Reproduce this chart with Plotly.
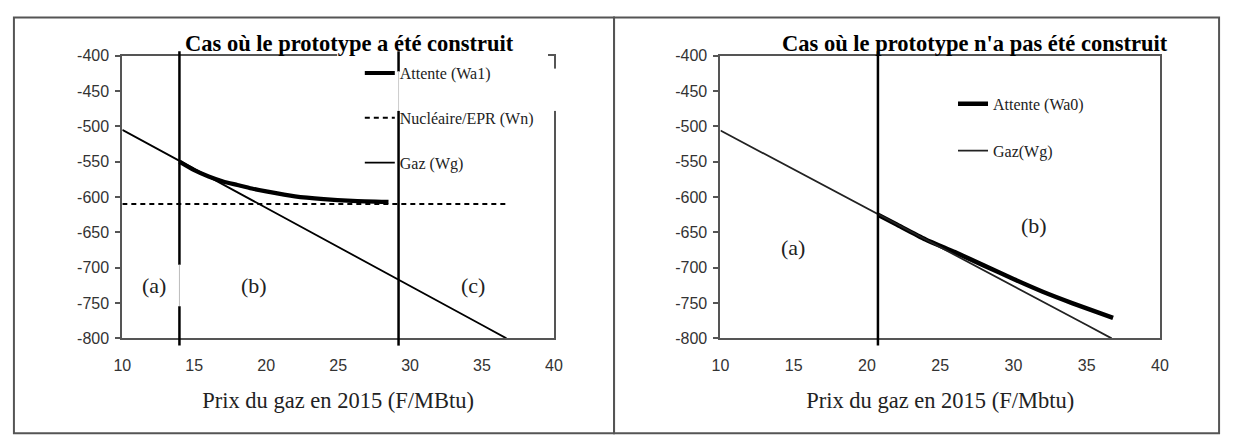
import plotly.graph_objects as go

W, H = 1233, 446

# ---------------- data ----------------
gas_x = [10, 15, 20, 25, 30, 35, 36.7]
gas_left = [-505, -560, -615, -671, -726, -781, -800]
gas_right = [-506, -561, -615, -670, -726, -781, -800]

wa1_x = [13.97, 15, 16, 17, 18, 19, 20, 22, 24, 26, 28.5]
wa1_y = [-550, -562, -571, -578, -583, -588, -592, -599, -603, -605.5, -607]

wn_x = [10, 36.8]
wn_y = [-610, -610]

wa0_x = [20.75, 22, 24, 26, 28, 30, 32, 34, 36.8]
wa0_y = [-625, -638.5, -660, -678, -697, -716, -734, -750, -771]

left_thresholds = [13.97, 29.2]
right_thresholds = [20.75]

x_ticks = [10, 15, 20, 25, 30, 35, 40]
x_tick_labels = ["10", "15", "20", "25", "30", "35", "40"]
y_ticks = [-800, -750, -700, -650, -600, -550, -500, -450, -400]
y_tick_labels = ["-800", "-750", "-700", "-650", "-600", "-550", "-500", "-450", "-400"]

left_labels = ["(a)", "(b)", "(c)"]
left_label_x = [12.17, 19.12, 34.4]
left_label_y = [-725, -725, -725]
right_labels = ["(a)", "(b)"]
right_label_x = [14.96, 31.4]
right_label_y = [-671, -641]

title_left = "Cas où le prototype a été construit"
title_right = "Cas où le prototype n'a pas été construit"
xtitle_left = "Prix du gaz en 2015 (F/MBtu)"
xtitle_right = "Prix du gaz en 2015 (F/Mbtu)"


def px(v):
    return v / W


def py(v):
    return 1 - v / H


SERIF = "Liberation Serif, Times New Roman, serif"
SANS = "Liberation Sans, Arial, sans-serif"

fig = go.Figure()

# left panel traces
fig.add_trace(go.Scatter(x=wa1_x, y=wa1_y, mode="lines", name="Attente (Wa1)",
                         line=dict(color="black", width=4.2, shape="spline", smoothing=0.6),
                         xaxis="x", yaxis="y", legend="legend", legendgroup="a1"))
fig.add_trace(go.Scatter(x=wn_x, y=wn_y, mode="lines", name="Nucléaire/EPR (Wn)",
                         line=dict(color="black", width=2, dash="5px,4px"),
                         xaxis="x", yaxis="y", legend="legend", legendgroup="n"))
fig.add_trace(go.Scatter(x=gas_x, y=gas_left, mode="lines", name="Gaz (Wg)",
                         line=dict(color="black", width=1.8),
                         xaxis="x", yaxis="y", legend="legend", legendgroup="g"))

# right panel traces
fig.add_trace(go.Scatter(x=wa0_x, y=wa0_y, mode="lines", name="Attente (Wa0)",
                         line=dict(color="black", width=4.5, shape="spline", smoothing=0.6),
                         xaxis="x2", yaxis="y2", legend="legend2", legendgroup="a0"))
fig.add_trace(go.Scatter(x=gas_x, y=gas_right, mode="lines", name="Gaz(Wg)",
                         line=dict(color="#222", width=1.8),
                         xaxis="x2", yaxis="y2", legend="legend2", legendgroup="g2"))

ydom = [py(343.5), py(49.5)]
axis_common = dict(showline=True, linecolor="#555", linewidth=2, mirror=True,
                   showgrid=False, zeroline=False)
xaxis_common = dict(axis_common, range=[10, 40], tickvals=x_ticks, ticktext=x_tick_labels,
                    ticks="", tickfont=dict(family=SANS, size=16, color="#333"),
                    ticklabelstandoff=11)
yaxis_common = dict(axis_common, range=[-800, -400], tickvals=y_ticks, ticktext=y_tick_labels,
                    ticks="outside", ticklen=5, tickwidth=2, tickcolor="#555",
                    tickfont=dict(family=SANS, size=16, color="#333"),
                    ticklabelstandoff=3)

shapes = []
# outer frames
shapes.append(dict(type="rect", xref="paper", yref="paper", x0=px(5), x1=px(614),
                   y0=py(442), y1=py(10), line=dict(color="#555", width=2)))
shapes.append(dict(type="rect", xref="paper", yref="paper", x0=px(614), x1=px(1228),
                   y0=py(442), y1=py(10), line=dict(color="#555", width=2)))
# white area over the left legend (as in the scan)
shapes.append(dict(type="rect", xref="paper", yref="paper", x0=px(333), x1=px(547),
                   y0=py(107), y1=py(46), fillcolor="white", line=dict(width=0), layer="above"))
shapes.append(dict(type="rect", xref="paper", yref="paper", x0=px(546), x1=px(557),
                   y0=py(107), y1=py(63), fillcolor="white", line=dict(width=0), layer="above"))

# threshold lines, left panel
t1, t2 = left_thresholds
shapes += [
    dict(type="line", xref="x", yref="paper", x0=t1, x1=t1, y0=py(267), y1=py(45),
         line=dict(color="black", width=2.5), layer="above"),
    dict(type="line", xref="x", yref="paper", x0=t1, x1=t1, y0=py(310), y1=py(267),
         line=dict(color="#bbb", width=1), layer="above"),
    dict(type="line", xref="x", yref="paper", x0=t1, x1=t1, y0=py(351), y1=py(310),
         line=dict(color="black", width=2.5), layer="above"),
    dict(type="line", xref="x", yref="paper", x0=t2, x1=t2, y0=py(66), y1=py(45),
         line=dict(color="black", width=2.5), layer="above"),
    dict(type="line", xref="x", yref="paper", x0=t2, x1=t2, y0=py(107), y1=py(66),
         line=dict(color="#ccc", width=1), layer="above"),
    dict(type="line", xref="x", yref="paper", x0=t2, x1=t2, y0=py(351), y1=py(107),
         line=dict(color="black", width=2.5), layer="above"),
]
for t in right_thresholds:
    shapes.append(dict(type="line", xref="x2", yref="paper", x0=t, x1=t, y0=py(351), y1=py(45),
                       line=dict(color="black", width=2.5), layer="above"))

annotations = [
    dict(text="<b>%s</b>" % title_left, xref="paper", yref="paper", x=px(346), y=py(37),
         xanchor="center", yanchor="middle", showarrow=False,
         font=dict(family=SERIF, size=22.5, color="black")),
    dict(text="<b>%s</b>" % title_right, xref="paper", yref="paper", x=px(980), y=py(37),
         xanchor="center", yanchor="middle", showarrow=False,
         font=dict(family=SERIF, size=22.5, color="black")),
]
for t, xx, yy in zip(left_labels, left_label_x, left_label_y):
    annotations.append(dict(text=t, x=xx, y=yy, xref="x", yref="y", showarrow=False,
                            font=dict(family=SERIF, size=22, color="#222")))
for t, xx, yy in zip(right_labels, right_label_x, right_label_y):
    annotations.append(dict(text=t, x=xx, y=yy, xref="x2", yref="y2", showarrow=False,
                            font=dict(family=SERIF, size=22, color="#222")))

fig.update_layout(
    width=W, height=H,
    margin=dict(l=0, r=0, t=0, b=0),
    paper_bgcolor="white", plot_bgcolor="white",
    xaxis=dict(xaxis_common, domain=[px(115), px(553)], anchor="y",
               title=dict(text=xtitle_left, font=dict(family=SERIF, size=22.5, color="#222"),
                          standoff=20)),
    yaxis=dict(yaxis_common, domain=ydom, anchor="x"),
    xaxis2=dict(xaxis_common, domain=[px(722), px(1168)], anchor="y2",
                title=dict(text=xtitle_right, font=dict(family=SERIF, size=22.5, color="#222"),
                           standoff=20)),
    yaxis2=dict(yaxis_common, domain=ydom, anchor="x2"),
    legend=dict(x=px(356), y=py(50), xanchor="left", yanchor="top",
                bgcolor="rgba(0,0,0,0)", traceorder="grouped", tracegroupgap=21,
                font=dict(family=SERIF, size=16, color="#222")),
    legend2=dict(x=px(958), y=py(82), xanchor="left", yanchor="top",
                 bgcolor="rgba(0,0,0,0)", traceorder="grouped", tracegroupgap=23,
                 font=dict(family=SERIF, size=16, color="#222")),
    shapes=shapes,
    annotations=annotations,
    showlegend=True,
)

fig.write_html("out.html")
